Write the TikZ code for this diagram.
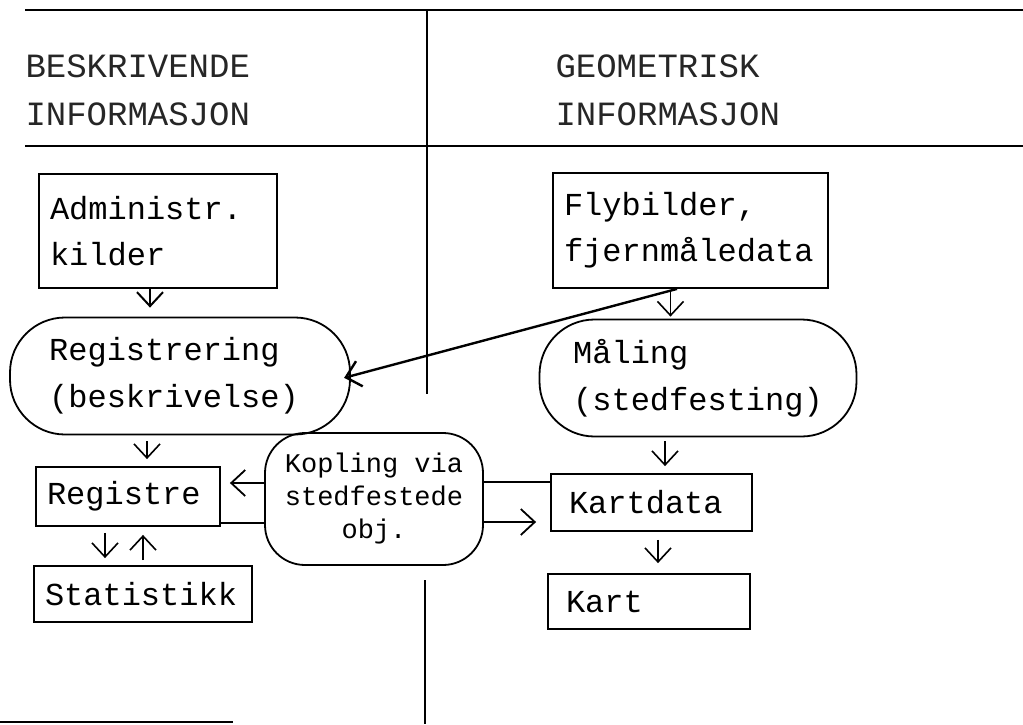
\documentclass[tikz,border=0pt]{standalone}
\usepackage{fontspec}
\setmonofont{Liberation Mono}
\usetikzlibrary{positioning, arrows.meta}

\begin{document}
\begin{tikzpicture}[x=1pt, y=-1pt,
        box/.style={draw, rectangle, line width=1.8pt, align=left, inner xsep=11pt, font=\ttfamily\fontsize{32}{46}\selectfont},
        blob/.style={draw, rectangle, rounded corners=55pt, line width=1.8pt},
        blobtext/.style={align=left, font=\ttfamily\fontsize{32}{47}\selectfont},
        header/.style={anchor=west, text=black!85, font=\ttfamily\fontsize{34}{40}\selectfont},
        arr/.style={-{Straight Barb[length=14pt,width=26pt]}, line width=1.6pt}]
        \useasboundingbox (0,0) rectangle (1023,724);
        % Headings and rules
        \draw[line width=2.2pt] (25,10) -- (1023,10);
        \draw[line width=2.2pt] (25,146) -- (1023,146);
        \draw[line width=1.4pt] (427,10) -- (427,394);
        \draw[line width=1.4pt] (425,580) -- (425,724);
        \draw[line width=2.2pt] (0,722) -- (233,722);
        \node (head1) [header] at (22,66) {BESKRIVENDE};
        \node (head2) [header] at (22,114) {INFORMASJON};
        \node (head3) [header] at (552,66) {GEOMETRISK};
        \node (head4) [header] at (552,114) {INFORMASJON};
        % Sources
        \node (admin) [box, text width=216pt, minimum height=114pt] at (158,231) {Administr.\\kilder};
        \node (fly) [box, text width=253pt, minimum height=115pt] at (690.5,230.5) {Flybilder,\\fjernmåledata};
        % Registering and measuring
        \node (reg) [blob, minimum width=340pt, minimum height=117pt] at (180,376) {};
        \node (regtext) [blobtext] at ([xshift=-6pt]reg.center) {Registrering\\(beskrivelse)};
        \node (maal) [blob, minimum width=317pt, minimum height=117pt] at (698,378) {};
        \node (maaltext) [blobtext] at (maal) {Måling\\(stedfesting)};
        % Results
        \node (registre) [box, text width=162pt, minimum height=59pt] at (128,496.5) {Registre};
        \node (stat) [box, text width=196pt, minimum height=56pt] at (143,594) {Statistikk};
        \node (kartdata) [box, inner xsep=18pt, text width=165pt, minimum height=57pt] at (651.5,502.5) {Kartdata};
        \node (kart) [box, inner xsep=18pt, text width=166pt, minimum height=55pt] at (649,601.5) {Kart};
        % Coupling
        \node (kop) [blob, rounded corners=40pt, minimum width=218pt, minimum height=132pt] at (374,499) {};
        \node (koptext) [align=center, font=\ttfamily\fontsize{27}{33}\selectfont] at (kop) {Kopling via\\stedfestede\\obj.};
        % Arrows
        \draw[arr, line width=2pt, shorten >=9pt] ([xshift=-8pt]admin.south) -- ([xshift=-8pt]admin.south |- reg.north);
        \draw[arr, shorten <=2pt, shorten >=2pt] ([xshift=-20pt]fly.south) -- ([xshift=-20pt]fly.south |- maal.north);
        \draw[arr, line width=2.4pt, shorten >=-7pt] ([xshift=-13.5pt]fly.south) -- (reg.east);
        \draw[arr, shorten <=6pt, shorten >=7pt] ([xshift=19pt]registre.north |- reg.south) -- ([xshift=19pt]registre.north);
        \draw[arr, shorten <=4pt, shorten >=7pt] ([xshift=13.5pt]kartdata.north |- maal.south) -- ([xshift=13.5pt]kartdata.north);
        \draw[arr, shorten <=8pt, shorten >=10pt] ([xshift=6.5pt]kartdata.south) -- ([xshift=6.5pt]kartdata.south |- kart.north);
        \draw[arr, shorten <=6pt, shorten >=7pt] ([xshift=-23pt]registre.south) -- ([xshift=-23pt]registre.south |- stat.north);
        \draw[arr, shorten <=5pt, shorten >=8pt] ([xshift=15pt]registre.south |- stat.north) -- ([xshift=15pt]registre.south);
        % Coupling lines
        \draw[line width=1.8pt] ([yshift=20.5pt]kartdata.west) -- ([yshift=20.5pt]kartdata.west -| kop.east);
        \draw[arr, line width=1.8pt, shorten >=9pt] ([yshift=16pt]kop.west) -- ([yshift=16pt]kop.west -| registre.east);
        \draw[line width=1.8pt] ([yshift=-26.5pt]registre.east) -- ([yshift=-26.5pt]registre.east -| kop.west);
        \draw[arr, line width=1.8pt, shorten >=14pt] ([yshift=-23pt]kop.east) -- ([yshift=-23pt]kop.east -| kartdata.west);
    \end{tikzpicture}
\end{document}
